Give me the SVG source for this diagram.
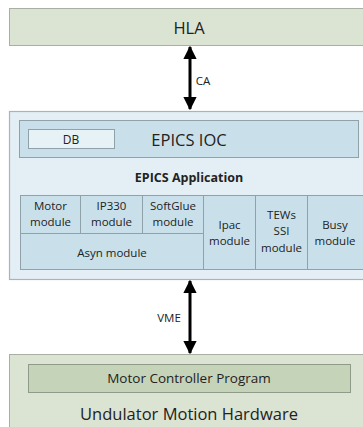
<svg xmlns="http://www.w3.org/2000/svg" width="363" height="427" viewBox="0 0 363 427">
<style>
text{font-family:"Open Sans","Liberation Sans",sans-serif;fill:#222;text-anchor:middle;dominant-baseline:central}
.green{fill:#dbe3d2;stroke:#a9b0a3;stroke-width:1}
.green2{fill:#c5d3b9;stroke:#8f9a88;stroke-width:1}
.outer{fill:#e3eff5;stroke:#a8b4ba;stroke-width:1.2}
.blue{fill:#c9e0ea;stroke:#8fa2aa;stroke-width:1}
.db{fill:#e7f2f7;stroke:#8fa2aa;stroke-width:1}
.mod{fill:#c9e0ea;stroke:#8fa2aa;stroke-width:1}
.m{font-size:11.5px}
.conn{stroke:#000;stroke-width:3}
</style>
<defs>
<marker id="ah" viewBox="0 0 10 10" refX="9" refY="5" markerWidth="4.4" markerHeight="4.4" orient="auto-start-reverse" markerUnits="strokeWidth">
<path d="M0,0 L10,5 L0,10 z" fill="#000"/>
</marker>
</defs>
<g id="hla">
<rect class="green" x="9.5" y="8.5" width="360" height="37"/>
<text x="189" y="27" font-size="16.5">HLA</text>
</g>
<g id="ioc-outer">
<rect class="outer" x="9.5" y="111.5" width="360" height="168"/>
</g>
<g id="epics-ioc">
<rect class="blue" x="19.5" y="120.5" width="339" height="37"/>
<text x="189" y="139" font-size="16.5">EPICS IOC</text>
</g>
<g id="db">
<rect class="db" x="28.5" y="129.5" width="86" height="19"/>
<text x="71" y="139.5" font-size="12">DB</text>
</g>
<g id="epics-app">
<text x="189" y="177" font-size="12.5" font-weight="bold">EPICS Application</text>
</g>
<g id="motor-module">
<rect class="mod" x="20.5" y="195.5" width="60" height="38"/>
<text class="m" x="50.5" y="205">Motor</text>
<text class="m" x="50.5" y="221.5">module</text>
</g>
<g id="ip330-module">
<rect class="mod" x="80.5" y="195.5" width="62" height="38"/>
<text class="m" x="111.5" y="205">IP330</text>
<text class="m" x="111.5" y="221.5">module</text>
</g>
<g id="softglue-module">
<rect class="mod" x="142.5" y="195.5" width="61" height="38"/>
<text class="m" x="173" y="205">SoftGlue</text>
<text class="m" x="173" y="221.5">module</text>
</g>
<g id="asyn-module">
<rect class="mod" x="20.5" y="233.5" width="183" height="36"/>
<text class="m" x="112" y="252">Asyn module</text>
</g>
<g id="ipac-module">
<rect class="mod" x="203.5" y="195.5" width="52" height="74"/>
<text class="m" x="229.5" y="224">Ipac</text>
<text class="m" x="229.5" y="240.5">module</text>
</g>
<g id="tews-module">
<rect class="mod" x="255.5" y="195.5" width="52" height="74"/>
<text class="m" x="281.5" y="214">TEWs</text>
<text class="m" x="281.5" y="230.5">SSI</text>
<text class="m" x="281.5" y="247">module</text>
</g>
<g id="busy-module">
<rect class="mod" x="307.5" y="195.5" width="60" height="74"/>
<text class="m" x="335" y="224">Busy</text>
<text class="m" x="335" y="240.5">module</text>
</g>
<g id="hardware">
<rect class="green" x="9.5" y="354.5" width="360" height="80"/>
<text x="189" y="413" font-size="16.5">Undulator Motion Hardware</text>
</g>
<g id="mcp">
<rect class="green2" x="28.5" y="364.5" width="322" height="28"/>
<text x="189" y="378" font-size="13.5">Motor Controller Program</text>
</g>
<g id="connectors">
<line class="conn" x1="190" y1="47" x2="190" y2="109" marker-start="url(#ah)" marker-end="url(#ah)"/>
<text x="203" y="80" font-size="11.5">CA</text>
<line class="conn" x1="190" y1="281" x2="190" y2="353" marker-start="url(#ah)" marker-end="url(#ah)"/>
<text x="169" y="317" font-size="11.5">VME</text>
</g>
</svg>
